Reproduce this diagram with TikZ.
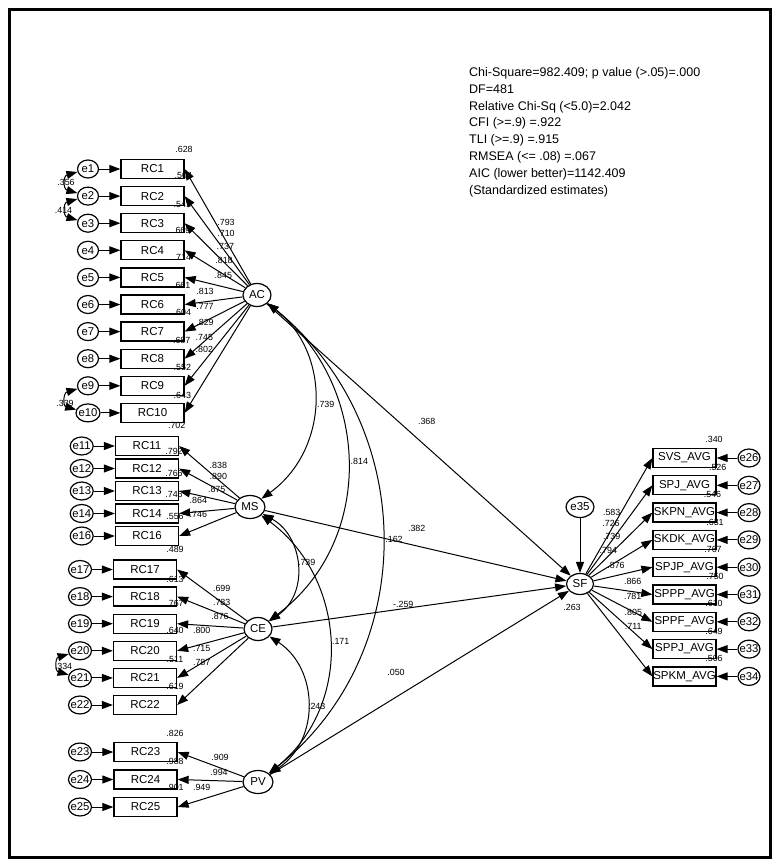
\documentclass[tikz,border=0pt]{standalone}
\usepackage{fontspec}
\setmainfont{Liberation Sans}
\usetikzlibrary{shapes.geometric,arrows.meta}
\begin{document}
\begin{tikzpicture}[x=1pt,y=-1pt,
  obs/.style={draw,line width=1.3pt,rectangle,minimum width=63pt,minimum height=19pt,inner sep=0pt,font=\fontsize{11.5}{12}\selectfont},
  err/.style={draw,line width=1.2pt,ellipse,minimum width=#1,minimum height=18pt,inner sep=0pt,font=\fontsize{11.3}{12}\selectfont},
  err/.default=21pt,
  lat/.style={draw,line width=1.2pt,ellipse,minimum width=28pt,minimum height=23pt,inner sep=0pt,font=\fontsize{11.5}{12}\selectfont},
  arr/.style={line width=1pt,-{Triangle[length=11pt,width=8pt]}},
  cov/.style={line width=1pt,{Triangle[length=11pt,width=8pt]}-{Triangle[length=11pt,width=8pt]}},
  lbl/.style={inner sep=0pt,font=\fontsize{8.9}{9}\selectfont},
]
\useasboundingbox (0,0) rectangle (779,867);
\draw[line width=2.5pt] (9.5,9.5) rectangle (770.5,857.5);

% fit statistics
\node[anchor=north west,inner sep=0pt,align=left,font=\fontsize{12.5}{16.9}\selectfont] (fit) at (469,67)
 {Chi-Square=982.409; p value (>.05)=.000\\DF=481\\Relative Chi-Sq (<5.0)=2.042\\CFI (>=.9) =.922\\TLI (>=.9) =.915\\RMSEA (<= .08) =.067\\AIC (lower better)=1142.409\\(Standardized estimates)};

% latent variables
\node[lat] (AC) at (257,295) {\makebox[0pt]{AC}};
\node[lat,minimum width=30pt] (MS) at (250,507) {\makebox[0pt]{MS}};
\node[lat] (CE) at (258,629) {\makebox[0pt]{CE}};
\node[lat,minimum width=30pt] (PV) at (258,782) {\makebox[0pt]{PV}};
\node[lat,minimum width=27pt,minimum height=21pt] (SF) at (580,584) {\makebox[0pt]{SF}};
\node[lat,minimum height=21pt] (e35) at (580,507) {\makebox[0pt]{e35}};

% AC block
\foreach \i/\y in {1/169,2/196.1,3/223.2,4/250.3,5/277.4,6/304.5,7/331.6,8/358.7,9/385.8}{
  \node[obs] (RC\i) at (152.5,\y) {\makebox[0pt]{RC\i}};
  \node[err] (e\i) at (88,\y) {\makebox[0pt]{e\i}};
}
\node[obs] (RC10) at (152.5,412.9) {\makebox[0pt]{RC10}};
\node[err=24pt] (e10) at (88,412.9) {\makebox[0pt]{e10}};
\foreach \i in {1,...,10}{
  \draw[arr] (e\i) -- (RC\i);
  \draw[arr] (AC) -- (RC\i.east);
}

% MS block
\foreach \i/\y in {11/446,12/468.5,13/491,14/513.5,16/536}{
  \node[obs] (RC\i) at (147,\y) {\makebox[0pt]{RC\i}};
  \node[err=23pt] (e\i) at (81.7,\y) {\makebox[0pt]{e\i}};
  \draw[arr] (e\i) -- (RC\i);
  \draw[arr] (MS) -- (RC\i.east);
}

% CE block
\foreach \i/\y in {17/569.5,18/596.6,19/623.7,20/650.8,21/677.9,22/705}{
  \node[obs] (RC\i) at (145,\y) {\makebox[0pt]{RC\i}};
  \node[err=23pt] (e\i) at (80,\y) {\makebox[0pt]{e\i}};
  \draw[arr] (e\i) -- (RC\i);
  \draw[arr] (CE) -- (RC\i.east);
}

% PV block
\foreach \i/\y in {23/752,24/779.5,25/807}{
  \node[obs] (RC\i) at (145.5,\y) {\makebox[0pt]{RC\i}};
  \node[err=23pt] (e\i) at (80,\y) {\makebox[0pt]{e\i}};
  \draw[arr] (e\i) -- (RC\i);
  \draw[arr] (PV) -- (RC\i.east);
}

% SF block
\foreach \n/\k/\y in {SVS/26/458,SPJ/27/485.3,SKPN/28/512.6,SKDK/29/539.9,SPJP/30/567.2,SPPP/31/594.5,SPPF/32/621.8,SPPJ/33/649.1,SPKM/34/676.4}{
  \node[obs] (\n) at (684.5,\y) {\makebox[0pt]{\n\_AVG}};
  \node[err=22pt] (e\k) at (749,\y) {\makebox[0pt]{e\k}};
  \draw[arr] (e\k) -- (\n);
  \draw[arr] (SF) -- (\n.west);
}

% structural paths
\draw[arr] (AC) -- (SF);
\draw[arr] (MS) -- (SF);
\draw[arr] (CE) -- (SF);
\draw[arr] (PV) -- (SF);
\draw[arr] (e35) -- (SF);

% covariances
\draw[cov] (AC) .. controls (332,354) and (329,450) .. (MS);
\draw[cov] (AC) .. controls (369,383) and (378,539) .. (CE);
\draw[cov] (AC) .. controls (418,424) and (422,652) .. (PV);
\draw[cov] (MS) .. controls (303,536) and (310,593) .. (CE);
\draw[cov] (MS) .. controls (346,578) and (355,704) .. (PV);
\draw[cov] (CE) .. controls (318,668) and (321,739) .. (PV);

% error covariances
\draw[cov] (e1) .. controls (63,176) and (63,189) .. (e2);
\draw[cov] (e2) .. controls (63,203) and (63,216) .. (e3);
\draw[cov] (e9) .. controls (63,393) and (63,406) .. (e10);
\draw[cov] (e20) .. controls (55,658) and (55,671) .. (e21);

% labels
\foreach \t/\x/\y [count=\n] in {
 .628/184/149.3,.504/183.3/175.7,.541/182.3/204,.669/181.7/230,.714/182.3/257.3,
 .661/181.7/285.7,.604/182.3/312.3,.687/181.7/340,.552/182.3/367.3,.643/182.3/395,
 .702/176.7/425.7,.792/174/451.7,.766/174/473.3,.746/174/494,.556/175/516.7,
 .489/175/549.3,.613/175/579,.767/175/603.3,.640/175/630.7,.511/175/659,.619/175/686,
 .826/175/733.3,.988/175/761,.901/175/787.3,
 .793/226/222.7,.710/226/233.3,.737/225.3/246.7,.818/224/260.7,.845/223.3/275,
 .813/205/291.7,.777/205/306.7,.829/205/322.3,.745/204.3/337.3,.802/204.3/349.3,
 .838/218.3/465,.890/218.3/476,.875/216.7/489,.864/198.3/500.7,.746/198.3/514.3,
 .699/221.7/588.3,.783/221.7/602.3,.876/220/616.7,.800/201.7/630.7,.715/201.7/648.3,.787/201.7/662.3,
 .909/220/757.3,.994/219/772.7,.949/201.7/787.3,
 .583/611.7/512.3,.726/611/523.3,.739/611.7/536,.794/608.3/550.7,.876/616/565.7,
 .866/632.7/581.7,.781/632.7/596,.805/633.3/612.3,.711/633.3/626,
 .340/714/439,.526/717.7/467,.546/712.5/494.8,.631/715/522,.767/713/549,
 .750/715/576,.610/714/603.8,.649/714/631.3,.506/714/658.3,
 .263/572/607,
 .368/426.7/421,.382/416.7/528.3,-.259/403.3/604,.050/396/672.7,
 .739/325.7/404,.814/359.3/461,.162/394/539,.739/306.7/562.7,.171/340.7/641,.243/316.7/706.7,
 .356/66/182.5,.414/63.5/210,.339/65/403,.334/63.5/666}{
  \node[lbl] (q\n) at (\x,\y) {\t};
}
\end{tikzpicture}
\end{document}
